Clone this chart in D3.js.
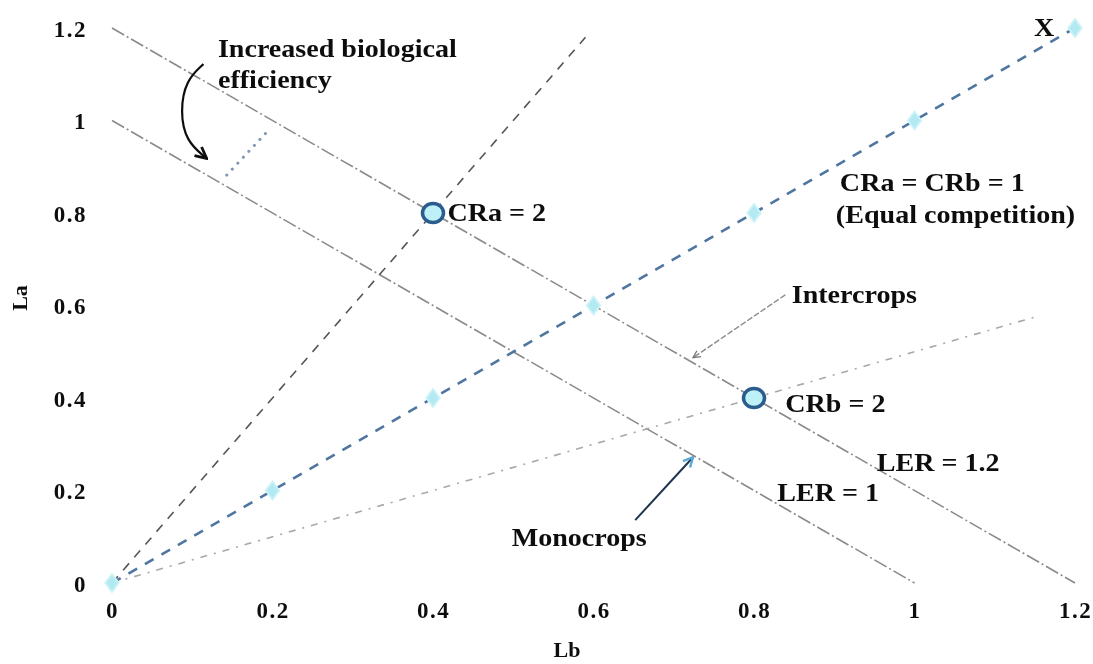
<!DOCTYPE html>
<html>
<head>
<meta charset="utf-8">
<script src="https://cdn.jsdelivr.net/npm/d3@7"></script>
<style>
  html, body { margin: 0; padding: 0; background: #fff; }
  svg { display: block; }
  text { font-family: "Liberation Serif", "Times New Roman", serif; fill: #111; }
</style>
</head>
<body>
<svg id="chart" width="1093" height="664"></svg>
<script>
// Axis ticks (relative yields of crop b and crop a)
const tickValues = [0, 0.2, 0.4, 0.6, 0.8, 1, 1.2];

// Equal-competition line: CRa = CRb = 1 (La = Lb)
const equalLb = [0, 0.2, 0.4, 0.6, 0.8, 1, 1.2];
const equalLa = [0, 0.2, 0.4, 0.6, 0.8, 1, 1.2];

// Land equivalent ratio isolines
const ler1Lb = [0, 1];
const ler1La = [1, 0];
const ler12Lb = [0, 1.2];
const ler12La = [1.2, 0];

// Competitive ratio rays
const craLb = [0, 0.59];
const craLa = [0, 1.18];
const crbLb = [0, 1.15];
const crbLa = [0, 0.575];

// Highlighted intercrop points
const crPointLb = [0.4, 0.8];
const crPointLa = [0.8, 0.4];

// Dotted gap between LER = 1 and LER = 1.2
const gapLb = [0.143, 0.195];
const gapLa = [0.882, 0.979];

// Annotation arrows (Lb, La)
const curveArrow = [[0.114, 1.122], [0.092, 1.087], [0.085, 1.02], [0.092, 0.955], [0.118, 0.918]];
const interArrow = [[0.839, 0.623], [0.724, 0.487]];
const monoArrow = [[0.652, 0.136], [0.724, 0.272]];

// Text labels: [text, Lb, La]
const labels = [
  ["Increased biological", 0.132, 1.137],
  ["efficiency", 0.132, 1.070],
  ["CRa = 2", 0.418, 0.783],
  ["CRa = CRb = 1", 0.907, 0.848],
  ["(Equal competition)", 0.902, 0.778],
  ["X", 1.149, 1.183],
  ["Intercrops", 0.847, 0.605],
  ["CRb = 2", 0.839, 0.370],
  ["LER = 1.2", 0.953, 0.242],
  ["LER = 1", 0.829, 0.177],
  ["Monocrops", 0.498, 0.080]
];

const svg = d3.select("#chart");
const x = d3.scaleLinear().domain([0, 1.2]).range([112, 1075]);
const y = d3.scaleLinear().domain([0, 1.2]).range([583, 28]);

const line = d3.line().x(d => x(d[0])).y(d => y(d[1]));
const zip = (a, b) => a.map((v, i) => [v, b[i]]);

const defs = svg.append("defs");
defs.append("filter").attr("id", "soft")
  .append("feGaussianBlur").attr("stdDeviation", 0.6);
defs.append("filter").attr("id", "softText")
  .append("feGaussianBlur").attr("stdDeviation", 0.35);
defs.append("marker").attr("id", "headGray")
  .attr("viewBox", "0 0 10 10").attr("refX", 9).attr("refY", 5)
  .attr("markerWidth", 9).attr("markerHeight", 9).attr("orient", "auto")
  .attr("markerUnits", "userSpaceOnUse")
  .append("path").attr("d", "M1,1 L9,5 L1,9").attr("fill", "none")
  .attr("stroke", "#777").attr("stroke-width", 1.5);
defs.append("marker").attr("id", "headBlue")
  .attr("viewBox", "0 0 10 10").attr("refX", 9).attr("refY", 5)
  .attr("markerWidth", 12).attr("markerHeight", 12).attr("orient", "auto")
  .attr("markerUnits", "userSpaceOnUse")
  .append("path").attr("d", "M1,1 L9,5 L1,9").attr("fill", "none")
  .attr("stroke", "#5aa9d6").attr("stroke-width", 2);
defs.append("marker").attr("id", "headBlack")
  .attr("viewBox", "0 0 10 10").attr("refX", 9).attr("refY", 5)
  .attr("markerWidth", 14).attr("markerHeight", 14).attr("orient", "auto")
  .attr("markerUnits", "userSpaceOnUse")
  .append("path").attr("d", "M1,1 L9,5 L1,9").attr("fill", "none")
  .attr("stroke", "#111").attr("stroke-width", 2);

const g = svg.append("g").attr("filter", "url(#soft)");

// LER isolines
g.append("path").datum(zip(ler1Lb, ler1La)).attr("d", line)
  .attr("fill", "none").attr("stroke", "#8a8a8a").attr("stroke-width", 1.6)
  .attr("stroke-dasharray", "14,3,2,3");
g.append("path").datum(zip(ler12Lb, ler12La)).attr("d", line)
  .attr("fill", "none").attr("stroke", "#8a8a8a").attr("stroke-width", 1.6)
  .attr("stroke-dasharray", "14,3,2,3");

// CRb = 2 ray (monocrop side)
g.append("path").datum(zip(crbLb, crbLa)).attr("d", line)
  .attr("fill", "none").attr("stroke", "#a8a8a8").attr("stroke-width", 1.6)
  .attr("stroke-dasharray", "7,7,2,7");

// CRa = 2 ray
g.append("path").datum(zip(craLb, craLa)).attr("d", line)
  .attr("fill", "none").attr("stroke", "#555").attr("stroke-width", 1.6)
  .attr("stroke-dasharray", "9,8");

// Equal competition line
g.append("path").datum(zip(equalLb, equalLa)).attr("d", line)
  .attr("fill", "none").attr("stroke", "#4f76a0").attr("stroke-width", 2.6)
  .attr("stroke-dasharray", "10,9");

// Dotted gap
g.append("path").datum(zip(gapLb, gapLa)).attr("d", line)
  .attr("fill", "none").attr("stroke", "#7f97b3").attr("stroke-width", 3)
  .attr("stroke-linecap", "round").attr("stroke-dasharray", "0.1,8");

// Diamond markers on the equal-competition line
g.selectAll(".diamond").data(zip(equalLb, equalLa)).join("path")
  .attr("class", "diamond")
  .attr("d", d3.symbol().type(d3.symbolDiamond).size(95))
  .attr("transform", d => `translate(${x(d[0])},${y(d[1])}) scale(1.3,1)`)
  .attr("fill", "#b3eaf2").attr("stroke", "#cdf3f8").attr("stroke-width", 1.5);

// CR points
g.selectAll(".crp").data(zip(crPointLb, crPointLa)).join("ellipse")
  .attr("class", "crp")
  .attr("cx", d => x(d[0])).attr("cy", d => y(d[1]))
  .attr("rx", 10.5).attr("ry", 9.5)
  .attr("fill", "#bdf1f7").attr("stroke", "#2b5d8e").attr("stroke-width", 3.5);

// Arrows
g.append("path").datum(curveArrow)
  .attr("d", d3.line().x(d => x(d[0])).y(d => y(d[1])).curve(d3.curveBasis))
  .attr("fill", "none").attr("stroke", "#111").attr("stroke-width", 2.2)
  .attr("marker-end", "url(#headBlack)");
g.append("path").datum(interArrow).attr("d", line)
  .attr("fill", "none").attr("stroke", "#8a8a8a").attr("stroke-width", 1.4)
  .attr("stroke-dasharray", "6,2")
  .attr("marker-end", "url(#headGray)");
g.append("path").datum(monoArrow).attr("d", line)
  .attr("fill", "none").attr("stroke", "#1f3550").attr("stroke-width", 2)
  .attr("marker-end", "url(#headBlue)");

// Tick labels
const yAxis = d3.axisLeft(y).tickValues(tickValues).tickSize(0).tickPadding(0)
  .tickFormat(d3.format("~g"));
const xAxis = d3.axisBottom(x).tickValues(tickValues).tickSize(0).tickPadding(0)
  .tickFormat(d3.format("~g"));

const textLayer = svg.append("g").attr("filter", "url(#softText)");

const ya = textLayer.append("g").attr("transform", "translate(87,0)").call(yAxis);
const xa = textLayer.append("g").attr("transform", "translate(0,602)").call(xAxis);
[ya, xa].forEach(a => {
  a.select(".domain").remove();
  a.selectAll("text").attr("font-size", 23).attr("font-weight", "bold")
    .attr("letter-spacing", 1.5)
    .attr("font-family", "Liberation Serif, serif").attr("fill", "#111");
});
ya.selectAll("text").attr("dy", "0.36em");
xa.selectAll("text").attr("dy", "0.7em");

// Axis titles
textLayer.append("text").attr("x", 567).attr("y", 657).attr("text-anchor", "middle")
  .attr("font-size", 22).attr("font-weight", "bold").text("Lb");
textLayer.append("text").attr("transform", "translate(27,298) rotate(-90)")
  .attr("text-anchor", "middle")
  .attr("font-size", 22).attr("font-weight", "bold").text("La");

// Annotations (slightly wide serif lettering)
textLayer.selectAll(".ann").data(labels).join("text")
  .attr("class", "ann")
  .attr("transform", d => `translate(${x(d[1])},${y(d[2])}) scale(1.08,1)`)
  .attr("font-size", 26).attr("font-weight", "bold")
  .text(d => d[0]);
</script>
</body>
</html>
